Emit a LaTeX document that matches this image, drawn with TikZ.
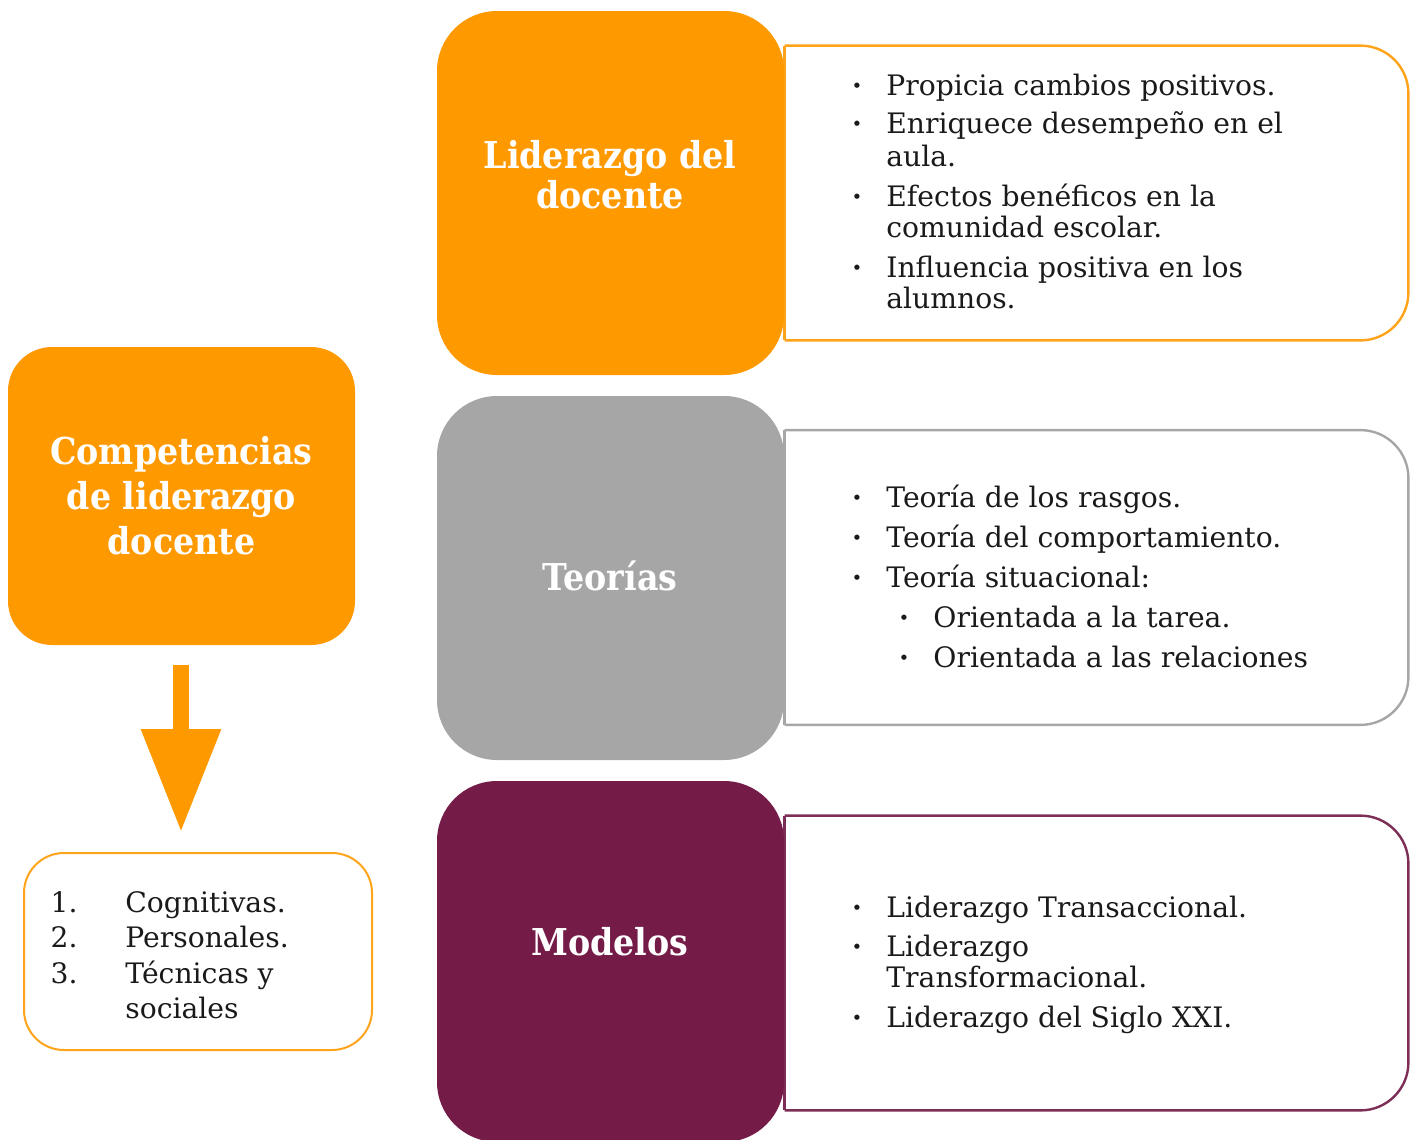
\documentclass[tikz,border=0pt]{standalone}
\usepackage{fontspec}
\setmainfont{DejaVu Serif}
\newfontfamily\titlefont[FakeStretch=0.9]{DejaVu Serif}
\usetikzlibrary{arrows.meta}
\definecolor{orfill}{HTML}{FF9900}
\definecolor{orbord}{HTML}{FFA31A}
\definecolor{grfill}{HTML}{A6A6A6}
\definecolor{grbord}{HTML}{A6A6A6}
\definecolor{mafill}{HTML}{741B47}
\definecolor{mabord}{HTML}{7D2E56}
\definecolor{txt}{HTML}{1A1A1A}
\tikzset{
  headbox/.style={rounded corners=30pt, minimum width=173.5pt, minimum height=182pt, inner sep=0pt},
  sidebox/.style={minimum width=311.5pt, minimum height=147pt, inner sep=0pt},
  title/.style={text=white, font=\titlefont\fontsize{18.5}{20}\selectfont\bfseries, align=center, inner sep=0pt},
  body/.style={font=\fontsize{14.1}{17}\selectfont, text=txt, inner sep=0pt, anchor=base west},
  num/.style={font=\fontsize{14.1}{17}\selectfont, text=txt, inner sep=0pt, anchor=base east},
  dot/.style={font=\fontsize{14.1}{17}\selectfont\bfseries, text=txt, inner sep=0pt, anchor=base},
  border/.style={line width=1.2pt}
}
\begin{document}
\begin{tikzpicture}[x=0.5pt,y=-0.5pt]
\useasboundingbox (0,0) rectangle (1413,1140);

% right side boxes
\node[sidebox] (rb1) at (1096.5,193) {};
\node[sidebox] (rb2) at (1096.5,577.5) {};
\node[sidebox] (rb3) at (1096.5,963) {};
\draw[border, orbord, rounded corners=24pt] (rb1.north west) -- (rb1.north east) -- (rb1.south east) -- (rb1.south west);
\draw[border, orbord] (rb1.south west) -- (rb1.north west);
\draw[border, grbord, rounded corners=24pt] (rb2.north west) -- (rb2.north east) -- (rb2.south east) -- (rb2.south west);
\draw[border, grbord] (rb2.south west) -- (rb2.north west);
\draw[border, mabord, rounded corners=24pt] (rb3.north west) -- (rb3.north east) -- (rb3.south east) -- (rb3.south west);
\draw[border, mabord] (rb3.south west) -- (rb3.north west);

% head boxes
\node[headbox, fill=orfill] (hb1) at (610.5,193) {};
\node[headbox, fill=grfill] (hb2) at (610.5,578) {};
\node[headbox, fill=mafill, minimum height=180.5pt] (hb3) at (610.5,961.5) {};
\node[title] (t1) at (610,175) {Liderazgo del\\docente};
\node[title] (t2) at (610,576) {Teorías};
\node[title] (t3) at (610,942) {Modelos};

% left column
\node[rounded corners=22pt, fill=orfill, minimum width=173.5pt, minimum height=149pt, text=white,
      font=\titlefont\fontsize{18.5}{22.5}\selectfont\bfseries, align=center] (comp) at (181.5,496)
      {Competencias\\de liderazgo\\docente};
\coordinate (as) at (181,665);
\coordinate (ae) at (181,832);
\draw[orfill, line width=8pt, -{Triangle[width=38pt,length=51.5pt]}] (as) -- (ae);
\node[draw=orbord, line width=1pt, rounded corners=20pt, minimum width=174pt, minimum height=98.5pt] (cl) at (198,951.5) {};
\node[num] (n1) at (78,912) {1.};
\node[num] (n2) at (78,947) {2.};
\node[num] (n3) at (78,983) {3.};
\node[body] (c1) at (125,912) {Cognitivas.};
\node[body] (c2) at (125,947) {Personales.};
\node[body] (c3) at (125,983) {Técnicas y};
\node[body] (c4) at (125,1018) {sociales};

% list 1
\node[dot] (d11) at (857,95) {·};
\node[dot] (d12) at (857,133) {·};
\node[dot] (d13) at (857,206) {·};
\node[dot] (d14) at (857,277) {·};
\node[body] (l11) at (886,95) {Propicia cambios positivos.};
\node[body] (l12) at (886,133) {Enriquece desempeño en el};
\node[body] (l12b) at (886,166) {aula.};
\node[body] (l13) at (886,206) {Efectos benéficos en la};
\node[body] (l13b) at (886,237) {comunidad escolar.};
\node[body] (l14) at (886,277) {Influencia positiva en los};
\node[body] (l14b) at (886,308) {alumnos.};

% list 2
\node[dot] (d21) at (857,507) {·};
\node[dot] (d22) at (857,547) {·};
\node[dot] (d23) at (857,587) {·};
\node[dot] (d24) at (904,627) {·};
\node[dot] (d25) at (904,667) {·};
\node[body] (l21) at (886,507) {Teoría de los rasgos.};
\node[body] (l22) at (886,547) {Teoría del comportamiento.};
\node[body] (l23) at (886,587) {Teoría situacional:};
\node[body] (l24) at (933,627) {Orientada a la tarea.};
\node[body] (l25) at (933,667) {Orientada a las relaciones};

% list 3
\node[dot] (d31) at (857,917) {·};
\node[dot] (d32) at (857,956) {·};
\node[dot] (d33) at (857,1027) {·};
\node[body] (l31) at (886,917) {Liderazgo Transaccional.};
\node[body] (l32) at (886,956) {Liderazgo};
\node[body] (l32b) at (886,987) {Transformacional.};
\node[body] (l33) at (886,1027) {Liderazgo del Siglo XXI.};
\end{tikzpicture}
\end{document}
